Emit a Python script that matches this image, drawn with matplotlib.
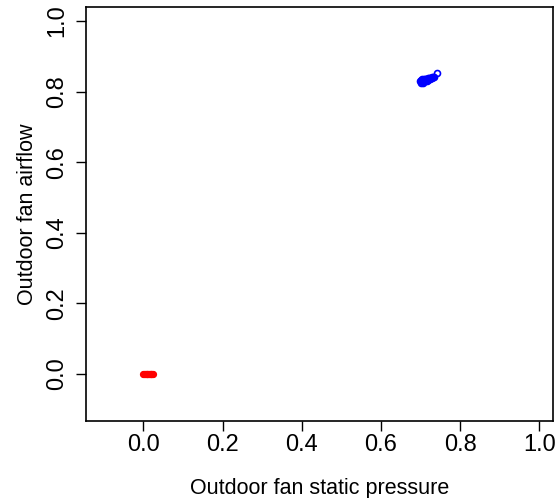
import matplotlib
matplotlib.use("Agg")
import matplotlib.pyplot as plt

# outdoor fan: static pressure vs airflow (normalised)
blue_x = [0.700, 0.701, 0.702, 0.703, 0.704, 0.705, 0.706, 0.707, 0.708, 0.709,
          0.710, 0.711, 0.712, 0.713, 0.714, 0.715, 0.716, 0.718, 0.719, 0.720,
          0.721, 0.722, 0.724, 0.725, 0.727, 0.728, 0.730, 0.732, 0.734, 0.742]
blue_y = [0.829, 0.826, 0.832, 0.835, 0.828, 0.834, 0.831, 0.826, 0.830, 0.836,
          0.833, 0.829, 0.835, 0.832, 0.837, 0.834, 0.831, 0.836, 0.838, 0.833,
          0.839, 0.835, 0.837, 0.840, 0.838, 0.841, 0.840, 0.843, 0.842, 0.852]

red_x = [0.000, 0.002, 0.004, 0.006, 0.008, 0.010, 0.012, 0.014, 0.016,
         0.018, 0.020, 0.022, 0.024]
red_y = [0.0, 0.0, 0.0, 0.0, 0.0, 0.0, 0.0, 0.0, 0.0, 0.0, 0.0, 0.0, 0.0]

ticks = [0.0, 0.2, 0.4, 0.6, 0.8, 1.0]
tick_labels = ["0.0", "0.2", "0.4", "0.6", "0.8", "1.0"]

plt.rcParams["font.family"] = ["Liberation Sans", "DejaVu Sans"]

fig = plt.figure(figsize=(5.55, 4.98), dpi=100)
ax = fig.add_axes([0.155, 0.1546, 0.8414, 0.8314])

ax.plot(red_x, red_y, linestyle="none", marker="o", markersize=4,
        markerfacecolor="none", markeredgecolor="#ff0000", markeredgewidth=1.2)
ax.plot(blue_x, blue_y, linestyle="none", marker="o", markersize=4.3,
        markerfacecolor="none", markeredgecolor="#0000ff", markeredgewidth=1.2)

ax.set_xlim(-0.145, 1.035)
ax.set_ylim(-0.133, 1.040)
ax.set_xticks(ticks)
ax.set_xticklabels(tick_labels, fontsize=17)
ax.set_yticks(ticks)
ax.set_yticklabels(tick_labels, fontsize=17, rotation=90, va="center")
ax.tick_params(axis="x", direction="out", length=7, width=1, pad=2)
ax.tick_params(axis="y", direction="out", length=7, width=1, pad=6)
for s in ax.spines.values():
    s.set_linewidth(1.2)

ax.set_xlabel("Outdoor fan static pressure", fontsize=15.5, labelpad=16)
ax.set_ylabel("Outdoor fan airflow", fontsize=15.5, labelpad=6)

fig.savefig("out.png", dpi=100)
plt.close(fig)
